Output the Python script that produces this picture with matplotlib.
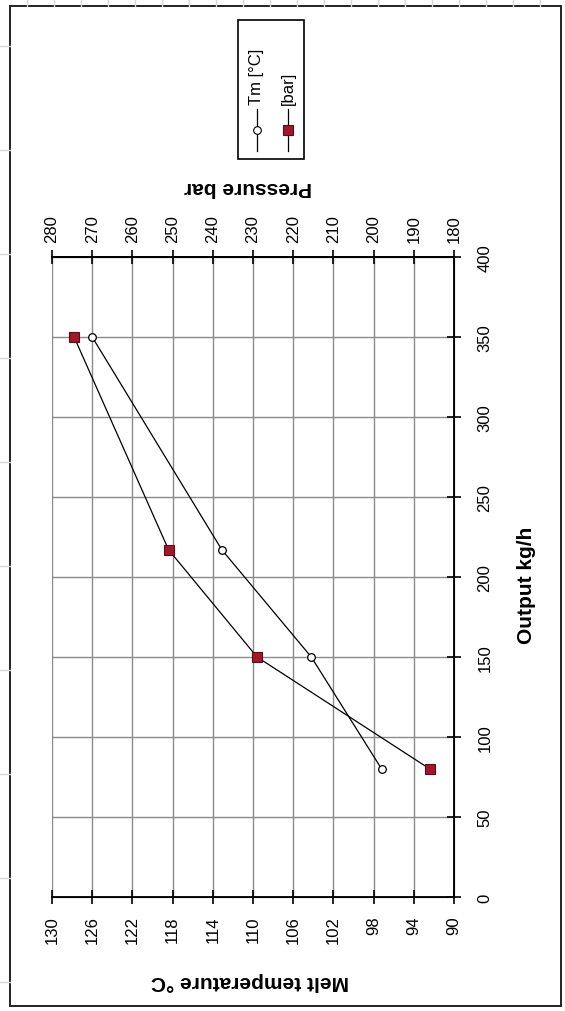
import matplotlib
matplotlib.use('Agg')
import matplotlib.pyplot as plt
from matplotlib.lines import Line2D
from matplotlib.patches import Rectangle

# ---- data ----
output = [80, 150, 217, 350]            # kg/h
melt_temp = [97.2, 104.2, 113.1, 126.0]  # deg C
pressure = [186, 229, 251, 274.5]        # bar

temp_ticks = list(range(90, 131, 4))
pressure_ticks = list(range(180, 281, 10))
output_ticks = list(range(0, 401, 50))

W, H = 565, 1012
plt.rcParams['font.family'] = ['Liberation Sans', 'DejaVu Sans']

fig = plt.figure(figsize=(W / 100, H / 100), dpi=100)


def fx(x):
    return x / W


def fy(y):
    return 1 - y / H


# faint sheet cell marks around the chart object
for x in range(27, 560, 27):
    fig.add_artist(Line2D([fx(x), fx(x)], [fy(0), fy(7)], color='#d6d6d6', lw=1))
for y in range(47, 1000, 104):
    fig.add_artist(Line2D([fx(0), fx(10)], [fy(y), fy(y)], color='#d6d6d6', lw=1))

# chart frame
fig.add_artist(Rectangle((fx(10), fy(1007)), (561 - 10) / W, (1007 - 7) / H,
                         transform=fig.transFigure, facecolor='none',
                         edgecolor='#222222', lw=1.4))

# ---- main axes (chart turned on its side: output runs up the page) ----
ax = fig.add_axes([fx(52), fy(898), (454 - 52) / W, (898 - 258) / H])
ax.plot(melt_temp, output, color='black', lw=0.9, marker='o', ms=5.5,
        mfc='white', mec='black', mew=0.9, zorder=3, label='Tm [°C]')
ax.set_xlim(130, 90)
ax.set_ylim(0, 400)
ax.set_xticks(temp_ticks)
ax.set_yticks(output_ticks)
ax.yaxis.tick_right()
ax.grid(True, color='#8a8a8a', lw=1)
ax.set_axisbelow(True)
ax.spines['left'].set_visible(False)
for s in ['top', 'right', 'bottom']:
    ax.spines[s].set_linewidth(1.3)
ax.tick_params(axis='both', direction='inout', length=10, width=1.2,
               labelsize=12, colors='black')
ax.tick_params(axis='x', labelrotation=90, pad=8)
ax.tick_params(axis='y', labelrotation=90, pad=12)
for lab in ax.get_yticklabels():
    lab.set_va('center')

# pressure on the second axis
ax2 = ax.twiny()
ax2.plot(pressure, output, color='black', lw=0.9, marker='s', ms=6.5,
         mfc='#a3162b', mec='#5c0a14', mew=0.8, zorder=3, label='[bar]')
ax2.set_xlim(280, 180)
ax2.set_xticks(pressure_ticks)
ax2.spines['left'].set_visible(False)
ax2.spines['top'].set_linewidth(1.3)
ax2.tick_params(axis='x', direction='inout', length=10, width=1.2,
                labelsize=12, labelrotation=90, pad=6)

# axis titles
fig.text(fx(527), fy(585), 'Output kg/h', rotation=90, fontsize=15,
         fontweight='bold', ha='center', va='center')
fig.text(fx(250), fy(982), 'Melt temperature °C', rotation=180, fontsize=15,
         fontweight='bold', ha='center', va='center')
fig.text(fx(248), fy(188), 'Pressure bar', rotation=180, fontsize=15,
         fontweight='bold', ha='center', va='center')

# legend box
fig.add_artist(Rectangle((fx(238), fy(160)), (304 - 238) / W, (160 - 21) / H,
                         transform=fig.transFigure, facecolor='white',
                         edgecolor='black', lw=1.2))
for xl, mk, ms, fc, ec, text in [(257, 'o', 5.5, 'white', 'black', 'Tm [°C]'),
                                 (288, 's', 6.5, '#a3162b', '#5c0a14', '[bar]')]:
    fig.add_artist(Line2D([fx(xl), fx(xl)], [fy(110), fy(152)], color='black',
                          lw=0.9, transform=fig.transFigure))
    fig.add_artist(Line2D([fx(xl)], [fy(131)], marker=mk, ms=ms, ls='none',
                          mfc=fc, mec=ec, mew=0.8, transform=fig.transFigure))
    fig.text(fx(xl), fy(105), text, rotation=90, fontsize=12,
             ha='center', va='bottom')

fig.savefig('out.png', dpi=100, facecolor='white')
